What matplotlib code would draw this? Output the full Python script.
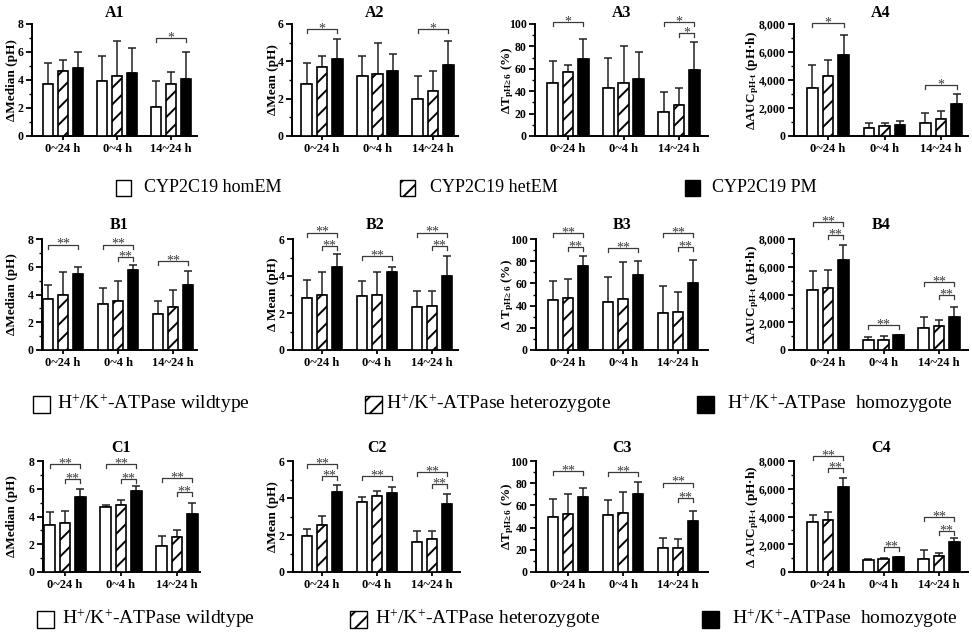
import numpy as np
import matplotlib
matplotlib.use('Agg')
import matplotlib.pyplot as plt
from matplotlib.patches import Rectangle
from matplotlib.ticker import FuncFormatter, MultipleLocator

plt.rcParams['font.family'] = ['Liberation Serif', 'DejaVu Serif']
plt.rcParams['mathtext.fontset'] = 'custom'
plt.rcParams['mathtext.rm'] = 'Liberation Serif'
plt.rcParams['mathtext.bf'] = 'Liberation Serif:bold'
plt.rcParams['mathtext.it'] = 'Liberation Serif:italic'
plt.rcParams['hatch.linewidth'] = 1.4

# ---- data: rows = period, columns = genotype group ----
periods = ['0~24 h', '0~4 h', '14~24 h']
legend_a = ['CYP2C19 homEM', 'CYP2C19 hetEM', 'CYP2C19 PM']
legend_bc = [r'H$^{+}$/K$^{+}$-ATPase wildtype',
             r'H$^{+}$/K$^{+}$-ATPase heterozygote',
             r'H$^{+}$/K$^{+}$-ATPase  homozygote']

a1_mean = [[3.7, 4.65, 4.85], [3.9, 4.3, 4.5], [2.1, 3.7, 4.1]]
a1_sd = [[1.5, 0.75, 1.15], [1.8, 2.5, 1.8], [1.8, 0.9, 1.9]]
a2_mean = [[2.8, 3.7, 4.1], [3.2, 3.3, 3.5], [2.0, 2.4, 3.8]]
a2_sd = [[1.1, 0.6, 1.1], [1.1, 1.7, 0.9], [1.2, 1.1, 1.3]]
a3_mean = [[47, 57, 69], [43, 47, 51], [21, 28, 59]]
a3_sd = [[20, 6, 18], [27, 33, 24], [18, 15, 25]]
a4_mean = [[3400, 4300, 5750], [550, 700, 750], [950, 1200, 2250]]
a4_sd = [[1700, 1150, 1450], [350, 250, 300], [700, 550, 750]]

b1_mean = [[3.7, 4.0, 5.5], [3.3, 3.5, 5.8], [2.6, 3.1, 4.7]]
b1_sd = [[1.0, 1.6, 0.5], [1.2, 1.5, 0.3], [0.9, 1.2, 1.0]]
b2_mean = [[2.8, 3.0, 4.5], [2.9, 3.0, 4.2], [2.3, 2.4, 4.0]]
b2_sd = [[1.0, 1.2, 0.7], [0.85, 1.2, 0.3], [0.9, 0.8, 1.1]]
b3_mean = [[45, 47, 76], [43, 46, 68], [33, 34, 60]]
b3_sd = [[17, 17, 9], [23, 33, 12], [25, 18, 21]]
b4_mean = [[4300, 4450, 6500], [700, 750, 1050], [1600, 1700, 2400]]
b4_sd = [[1400, 1350, 1050], [250, 250, 50], [750, 450, 700]]

c1_mean = [[3.4, 3.5, 5.4], [4.65, 4.8, 5.85], [1.9, 2.5, 4.2]]
c1_sd = [[0.9, 0.9, 0.6], [0.2, 0.4, 0.35], [0.7, 0.5, 0.8]]
c2_mean = [[1.95, 2.55, 4.3], [3.8, 4.1, 4.25], [1.6, 1.8, 3.7]]
c2_sd = [[0.35, 0.5, 0.4], [0.25, 0.3, 0.35], [0.6, 0.4, 0.5]]
c3_mean = [[50, 52, 68], [51, 53, 70], [22, 22, 46]]
c3_sd = [[16, 18, 8], [14, 19, 11], [9, 8, 9]]
c4_mean = [[3600, 3750, 6150], [900, 950, 1050], [950, 1150, 2150]]
c4_sd = [[500, 600, 650], [50, 50, 50], [600, 200, 300]]

# significance brackets: (period, group from, group to, height, label)
a1_sig = [(2, 0, 2, 7.0, '*')]
a2_sig = [(0, 0, 2, 5.73, '*'), (2, 0, 2, 5.73, '*')]
a3_sig = [(0, 0, 2, 102, '*'), (2, 0, 2, 102, '*'), (2, 1, 2, 92, '*')]
a4_sig = [(0, 0, 2, 8050, '*'), (2, 0, 2, 3670, '*')]
b1_sig = [(0, 0, 2, 7.6, '**'), (1, 0, 2, 7.6, '**'), (1, 1, 2, 6.7, '**'),
          (2, 0, 2, 6.4, '**')]
b2_sig = [(0, 0, 2, 6.35, '**'), (0, 1, 2, 5.64, '**'), (1, 0, 2, 5.08, '**'),
          (2, 0, 2, 6.35, '**'), (2, 1, 2, 5.64, '**')]
b3_sig = [(0, 0, 2, 105, '**'), (0, 1, 2, 93, '**'), (1, 0, 2, 92, '**'),
          (2, 0, 2, 105, '**'), (2, 1, 2, 93, '**')]
b4_sig = [(0, 0, 2, 9250, '**'), (0, 1, 2, 8290, '**'), (1, 0, 2, 1800, '**'),
          (2, 0, 2, 4880, '**'), (2, 1, 2, 3970, '**')]
c1_sig = [(0, 0, 2, 7.75, '**'), (0, 1, 2, 6.73, '**'), (1, 0, 2, 7.75, '**'),
          (1, 1, 2, 6.73, '**'), (2, 0, 2, 6.8, '**'), (2, 1, 2, 5.73, '**')]
c2_sig = [(0, 0, 2, 5.82, '**'), (0, 1, 2, 5.18, '**'), (1, 0, 2, 5.2, '**'),
          (2, 0, 2, 5.41, '**'), (2, 1, 2, 4.73, '**')]
c3_sig = [(0, 0, 2, 91, '**'), (1, 0, 2, 90, '**'), (2, 0, 2, 80.6, '**'),
          (2, 1, 2, 67, '**')]
c4_sig = [(0, 0, 2, 8380, '**'), (0, 1, 2, 7500, '**'), (1, 1, 2, 1790, '**'),
          (2, 0, 2, 3930, '**'), (2, 1, 2, 2980, '**')]

lab_median = 'ΔMedian (pH)'
lab_mean = 'ΔMean (pH)'
lab_t = r'ΔT$_{\mathbf{pH≥\,6}}$ (%)'
lab_t_sp = r'Δ T$_{\mathbf{pH≥\,6}}$ (%)'
lab_auc = r'ΔAUC$_{\mathbf{pH\text{-}t}}$ (pH·h)'
lab_auc_sp = r'Δ AUC$_{\mathbf{pH\text{-}t}}$ (pH·h)'

W, H = 972, 636
fig = plt.figure(figsize=(W / 100, H / 100), dpi=100)

# layout in pixels
rows = {
    'A': (24, 136, 13, 188),   # axis top, axis bottom, title y, legend y
    'B': (239, 350, 225, 404),
    'C': (461, 572, 448, 619),
}
cols_px = {   # axis left, axis right, first group centre, group spacing
    'A1': (32, 197, 63, 54), 'A2': (292, 458, 322, 55.5),
    'A3': (535, 708, 568, 55.5), 'A4': (794, 968, 828, 56.5),
    'B1': (42, 197, 63, 55), 'B2': (293, 458, 322, 55),
    'B3': (536, 708, 568, 55), 'B4': (794, 968, 828, 55.5),
    'C1': (43, 200, 65, 56), 'C2': (293, 460, 322, 55),
    'C3': (536, 708, 568, 55), 'C4': (794, 968, 828, 55.5),
}
ylab_x = {'1': 12, '2': 273, '3': 508, '4': 753}

panels = [
    ('A1', a1_mean, a1_sd, a1_sig, lab_median, 8, 2),
    ('A2', a2_mean, a2_sd, a2_sig, lab_mean, 6, 2),
    ('A3', a3_mean, a3_sd, a3_sig, lab_t, 100, 20),
    ('A4', a4_mean, a4_sd, a4_sig, lab_auc, 8000, 2000),
    ('B1', b1_mean, b1_sd, b1_sig, lab_median, 8, 2),
    ('B2', b2_mean, b2_sd, b2_sig, 'Δ Mean (pH)', 6, 2),
    ('B3', b3_mean, b3_sd, b3_sig, lab_t_sp, 100, 20),
    ('B4', b4_mean, b4_sd, b4_sig, lab_auc, 8000, 2000),
    ('C1', c1_mean, c1_sd, c1_sig, lab_median, 8, 2),
    ('C2', c2_mean, c2_sd, c2_sig, lab_mean, 6, 2),
    ('C3', c3_mean, c3_sd, c3_sig, lab_t, 100, 20),
    ('C4', c4_mean, c4_sd, c4_sig, lab_auc_sp, 8000, 2000),
]

offsets = [-0.275, 0.0, 0.275]
bar_w = 0.19
faces = ['white', 'white', 'black']
hatches = [None, '//', None]
sig_col = '#3a3a3a'

for name, mean, sd, sig, ylab, ymax, ystep in panels:
    top, bottom, title_y, _ = rows[name[0]]
    left, right, c0, sp = cols_px[name]
    ax = fig.add_axes([left / W, 1 - bottom / H, (right - left) / W, (bottom - top) / H])
    mean = np.array(mean)
    sd = np.array(sd)
    x = np.arange(len(periods))
    for g in range(3):
        xs = x + offsets[g]
        ax.bar(xs, mean[:, g], width=bar_w, color=faces[g], edgecolor='black',
               linewidth=1.2, hatch=hatches[g], zorder=3)
        ax.errorbar(xs, mean[:, g], yerr=[np.zeros(3), sd[:, g]], fmt='none',
                    ecolor='#222222', elinewidth=1.1, capsize=3, capthick=1.1, zorder=2)
    tick_len = 4.0 / (bottom - top) * ymax
    for p, g1, g2, yb, lab in sig:
        x1 = p + offsets[g1]
        x2 = p + offsets[g2]
        ax.plot([x1, x1, x2, x2], [yb - tick_len, yb, yb, yb - tick_len],
                color=sig_col, lw=0.9, clip_on=False, zorder=4)
        ax.annotate(lab, ((x1 + x2) / 2, yb), xytext=(0, -2.5), textcoords='offset points',
                    ha='center', va='baseline', fontsize=10, color=sig_col,
                    annotation_clip=False)
    ax.set_xlim((left - c0) / sp, (right - c0) / sp)
    ax.set_ylim(0, ymax)
    ax.set_yticks(np.arange(0, ymax + ystep / 2, ystep))
    ax.yaxis.set_minor_locator(MultipleLocator(ystep / 2))
    ax.yaxis.set_major_formatter(FuncFormatter(lambda v, pos: f'{v:,.0f}'))
    ax.set_xticks(x)
    ax.set_xticklabels(periods)
    for s in ['top', 'right']:
        ax.spines[s].set_visible(False)
    for s in ['left', 'bottom']:
        ax.spines[s].set_linewidth(1.4)
    ax.tick_params(axis='both', direction='out', length=4, width=1.3, pad=2)
    ax.tick_params(axis='y', which='minor', direction='out', length=2.2, width=1.0)
    ax.tick_params(axis='x', labelsize=9, length=3)
    ax.tick_params(axis='y', labelsize=8.5)
    for t in ax.get_xticklabels() + ax.get_yticklabels():
        t.set_fontweight('bold')
    fig.text((left + right) / 2 / W, 1 - title_y / H, name, ha='center', va='center',
             fontsize=11.5, fontweight='bold')
    fig.text(ylab_x[name[1]] / W, 1 - (top + bottom) / 2 / H, ylab, rotation=90,
             ha='center', va='center', fontsize=9.5, fontweight='bold')

# legends
def legend_row(labels, box_px, text_px, yc, size, fs):
    for i, lab in enumerate(labels):
        bx = box_px[i]
        fig.patches.append(Rectangle((bx / W, 1 - (yc + size / 2) / H), size / W, size / H,
                                     transform=fig.transFigure, facecolor=faces[i],
                                     edgecolor='black', linewidth=1.0, hatch=hatches[i]))
        fig.text(text_px[i] / W, 1 - yc / H, lab, ha='left', va='center', fontsize=fs)

legend_row(legend_a, [116, 400, 685], [144, 430, 712], rows['A'][3], 15, 13)
legend_row(legend_bc, [33, 365, 697], [57, 386, 727], rows['B'][3], 17, 14)
legend_row(legend_bc, [37, 350, 702], [62, 375, 732], rows['C'][3], 17, 14)

fig.savefig('out.png', dpi=100)
